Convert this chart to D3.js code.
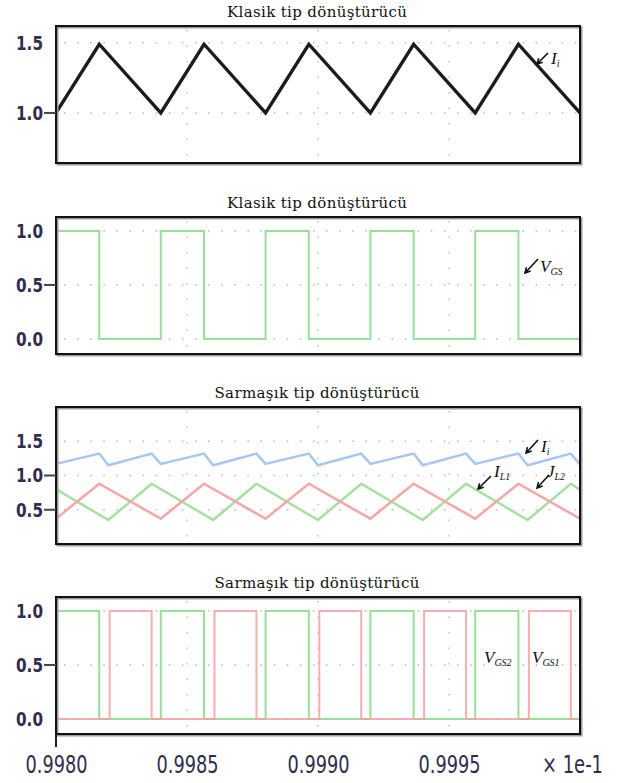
<!DOCTYPE html>
<html>
<head>
<meta charset="utf-8">
<script src="https://cdn.jsdelivr.net/npm/d3@7"></script>
<style>
body { margin: 0; background: #fff; }
svg { display: block; }
</style>
</head>
<body>
<script>
// time axis, shown in units of 1e-1 s
var xTicks = [0.9980, 0.9985, 0.9990, 0.9995];
var xTickLabels = ["0.9980", "0.9985", "0.9990", "0.9995"];
var titles = ["Klasik tip dönüştürücü", "Klasik tip dönüştürücü", "Sarmaşık tip dönüştürücü", "Sarmaşık tip dönüştürücü"];

// panel 1 - input current, classic converter
var iClassicT = [0.9980, 0.998165, 0.9984, 0.998565, 0.9988, 0.998965, 0.9992, 0.999365, 0.9996, 0.999765, 1.0000];
var iClassicV = [1.00, 1.49, 1.00, 1.49, 1.00, 1.49, 1.00, 1.49, 1.00, 1.49, 1.00];

// panel 2 - gate signal (step after each time)
var vgsT = [0.9980, 0.998165, 0.9984, 0.998565, 0.9988, 0.998965, 0.9992, 0.999365, 0.9996, 0.999765, 1.0000];
var vgsV = [1, 0, 1, 0, 1, 0, 1, 0, 1, 0, 0];

// panel 3 - interleaved converter currents
var iL1T = [0.9980, 0.998165, 0.9984, 0.998565, 0.9988, 0.998965, 0.9992, 0.999365, 0.9996, 0.999765, 1.0000];
var iL1V = [0.37, 0.88, 0.37, 0.88, 0.37, 0.88, 0.37, 0.88, 0.37, 0.88, 0.37];
var iL2T = [0.9980, 0.9982, 0.998365, 0.9986, 0.998765, 0.9990, 0.999165, 0.9994, 0.999565, 0.9998, 0.999965, 1.0000];
var iL2V = [0.80, 0.35, 0.88, 0.35, 0.88, 0.35, 0.88, 0.35, 0.88, 0.35, 0.88, 0.79];
var iInT = [0.9980, 0.998165, 0.9982, 0.998365, 0.9984, 0.998565, 0.9986, 0.998765, 0.9988, 0.998965, 0.9990,
            0.999165, 0.9992, 0.999365, 0.9994, 0.999565, 0.9996, 0.999765, 0.9998, 0.999965, 1.0000];
var iInV = [1.17, 1.32, 1.15, 1.32, 1.17, 1.32, 1.15, 1.32, 1.17, 1.32, 1.15,
            1.32, 1.17, 1.32, 1.15, 1.32, 1.17, 1.32, 1.15, 1.32, 1.16];

// panel 4 - interleaved gate signals
var vgs2T = [0.9980, 0.998165, 0.9984, 0.998565, 0.9988, 0.998965, 0.9992, 0.999365, 0.9996, 0.999765, 1.0000];
var vgs2V = [1, 0, 1, 0, 1, 0, 1, 0, 1, 0, 0];
var vgs1T = [0.9980, 0.998205, 0.998365, 0.998605, 0.998765, 0.999005, 0.999165, 0.999405, 0.999565, 0.999805, 0.999965, 1.0000];
var vgs1V = [0, 1, 0, 1, 0, 1, 0, 1, 0, 1, 0, 0];

var yTicks = [[1.0, 1.5], [0, 0.5, 1.0], [0.5, 1.0, 1.5], [0, 0.5, 1.0]];
var yDomains = [[0.643, 1.62], [-0.14, 1.13], [0, 2], [-0.14, 1.13]];
var yDash = [[1.0], [0.5], [1.0, 0.5], [0.5]];

var width = 621, height = 783;
var left = 56, right = 580, panelH = 137;
var panelTops = [26, 217, 407, 597];
var tickFont = '"DejaVu Sans Condensed", "DejaVu Sans", sans-serif';

var svg = d3.select('body').append('svg')
    .attr('width', width)
    .attr('height', height);

var x = d3.scaleLinear().domain([0.9980, 1.0000]).range([left, right]);

function pts(t, v) {
    return t.map(function(d, i){ return [d, v[i]]; });
}

var panels = [
    { series: [{ data: pts(iClassicT, iClassicV), color: '#1c1c1c', w: 3.4, step: false }] },
    { series: [{ data: pts(vgsT, vgsV), color: '#98e095', w: 2, step: true }] },
    { series: [
        { data: pts(iInT, iInV), color: '#a6c6f6', w: 2.5, step: false },
        { data: pts(iL2T, iL2V), color: '#a6e0a0', w: 2.5, step: false },
        { data: pts(iL1T, iL1V), color: '#f6a6a6', w: 2.5, step: false }
    ] },
    { series: [
        { data: pts(vgs2T, vgs2V), color: '#98e095', w: 2, step: true },
        { data: pts(vgs1T, vgs1V), color: '#f7a0a0', w: 2, step: true, op: 0.85 }
    ] }
];

panels.forEach(function(p, i){
    var top = panelTops[i];
    var y = d3.scaleLinear().domain(yDomains[i]).range([top + panelH, top]);
    var g = svg.append('g');

    // title
    g.append('text')
        .attr('x', 317)
        .attr('y', top - 9)
        .attr('text-anchor', 'middle')
        .attr('textLength', i < 2 ? 180 : 205)
        .attr('lengthAdjust', 'spacing')
        .style('font-family', '"DejaVu Serif", "Liberation Serif", serif')
        .style('font-size', '15px')
        .attr('fill', '#111')
        .text(titles[i]);

    // dotted grid
    yTicks[i].forEach(function(v){
        g.append('line')
            .attr('x1', left + 8).attr('x2', right)
            .attr('y1', y(v)).attr('y2', y(v))
            .attr('stroke', '#b8b8b8')
            .attr('stroke-width', 1.5)
            .attr('stroke-dasharray', '1.5,11.6');
    });
    xTicks.slice(1).forEach(function(t){
        g.append('line')
            .attr('x1', x(t)).attr('x2', x(t))
            .attr('y1', top + 4).attr('y2', top + panelH)
            .attr('stroke', '#c0c0c0')
            .attr('stroke-width', 1.5)
            .attr('stroke-dasharray', '1.5,14');
    });

    // curves
    p.series.forEach(function(s){
        var line = d3.line()
            .x(function(d){ return x(d[0]); })
            .y(function(d){ return y(d[1]); })
            .curve(s.step ? d3.curveStepAfter : d3.curveLinear);
        g.append('path')
            .datum(s.data)
            .attr('d', line)
            .attr('fill', 'none')
            .attr('stroke', s.color)
            .attr('stroke-width', s.w)
            .attr('stroke-linejoin', 'miter')
            .attr('opacity', s.op || 1);
    });

    // frame with a soft shadow
    g.append('rect')
        .attr('x', left + 1.5).attr('y', top + 1.5)
        .attr('width', right - left).attr('height', panelH)
        .attr('fill', 'none')
        .attr('stroke', '#9a9a9a')
        .attr('stroke-width', 2);
    g.append('rect')
        .attr('x', left).attr('y', top)
        .attr('width', right - left).attr('height', panelH)
        .attr('fill', 'none')
        .attr('stroke', '#111')
        .attr('stroke-width', 2);

    // y axis labels
    var yAxis = d3.axisLeft(y)
        .tickValues(yTicks[i])
        .tickSize(0)
        .tickPadding(13)
        .tickFormat(d3.format('.1f'));
    var ay = g.append('g')
        .attr('transform', 'translate(' + left + ',0)')
        .call(yAxis);
    ay.select('.domain').remove();
    ay.selectAll('text')
        .attr('textLength', 27)
        .attr('lengthAdjust', 'spacingAndGlyphs')
        .style('font-family', tickFont)
        .style('font-size', '20px')
        .style('font-weight', 'bold')
        .attr('fill', '#2e2e4c');
    yDash[i].forEach(function(v){
        g.append('line')
            .attr('x1', left - 12).attr('x2', left)
            .attr('y1', y(v)).attr('y2', y(v))
            .attr('stroke', '#444')
            .attr('stroke-width', 2);
    });
});

// x axis under the last panel
var bottom = panelTops[3] + panelH;
var xAxis = d3.axisBottom(x)
    .tickValues(xTicks)
    .tickSize(0)
    .tickFormat(function(d, i){ return xTickLabels[i]; });
var ax = svg.append('g')
    .attr('transform', 'translate(0,' + bottom + ')')
    .call(xAxis);
ax.select('.domain').remove();
ax.selectAll('text')
    .attr('y', 773 - bottom)
    .attr('dy', 0)
    .attr('textLength', 62)
    .attr('lengthAdjust', 'spacingAndGlyphs')
    .style('font-family', tickFont)
    .style('font-size', '24px')
    .attr('fill', '#2e2e4c');
svg.append('line')
    .attr('x1', x(0.9980)).attr('x2', x(0.9980))
    .attr('y1', bottom).attr('y2', bottom + 13)
    .attr('stroke', '#222')
    .attr('stroke-width', 2);
svg.append('text')
    .attr('x', 542).attr('y', 773)
    .attr('textLength', 61)
    .attr('lengthAdjust', 'spacingAndGlyphs')
    .style('font-family', tickFont)
    .style('font-size', '24px')
    .attr('fill', '#2e2e4c')
    .text('× 1e-1');

// annotations
var notes = [
    { main: 'I', sub: 'i',   x: 551, y: 64,  arrow: [548, 53, 537, 64] },
    { main: 'V', sub: 'GS',  x: 540, y: 272, arrow: [538, 259, 525, 273] },
    { main: 'I', sub: 'i',   x: 541, y: 452, arrow: [538, 440, 526, 453] },
    { main: 'I', sub: 'L1',  x: 494, y: 477, arrow: [491, 476, 478, 489] },
    { main: 'J', sub: 'L2',  x: 547, y: 477, arrow: [549, 475, 537, 488] },
    { main: 'V', sub: 'GS2', x: 484, y: 663, arrow: null },
    { main: 'V', sub: 'GS1', x: 532, y: 663, arrow: null }
];

notes.forEach(function(n){
    var t = svg.append('text')
        .attr('x', n.x).attr('y', n.y)
        .style('font-family', '"Liberation Serif", "Times New Roman", serif')
        .style('font-style', 'italic')
        .style('font-size', '17px')
        .attr('fill', '#111');
    t.append('tspan').text(n.main);
    t.append('tspan')
        .attr('dy', 3)
        .style('font-size', '10px')
        .text(n.sub);
    if (n.arrow) {
        var a = n.arrow;
        var ang = Math.atan2(a[1] - a[3], a[0] - a[2]);
        var hl = 6;
        var path = 'M' + a[0] + ',' + a[1] + 'L' + a[2] + ',' + a[3] +
            'M' + (a[2] + hl * Math.cos(ang + 0.5)) + ',' + (a[3] + hl * Math.sin(ang + 0.5)) +
            'L' + a[2] + ',' + a[3] +
            'L' + (a[2] + hl * Math.cos(ang - 0.5)) + ',' + (a[3] + hl * Math.sin(ang - 0.5));
        svg.append('path')
            .attr('d', path)
            .attr('fill', 'none')
            .attr('stroke', '#111')
            .attr('stroke-width', 1.6);
    }
});
</script>
</body>
</html>
